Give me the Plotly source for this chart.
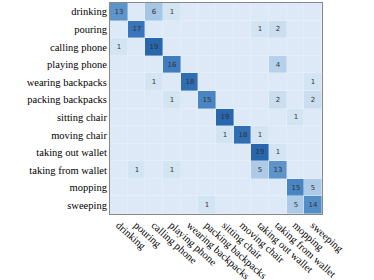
import plotly.graph_objects as go

labels = ["drinking", "pouring", "calling phone", "playing phone", "wearing backpacks",
          "packing backpacks", "sitting chair", "moving chair", "taking out wallet",
          "taking from wallet", "mopping", "sweeping"]

row_drinking = [13, 0, 6, 1, 0, 0, 0, 0, 0, 0, 0, 0]
row_pouring = [0, 17, 0, 0, 0, 0, 0, 0, 1, 2, 0, 0]
row_calling = [1, 0, 19, 0, 0, 0, 0, 0, 0, 0, 0, 0]
row_playing = [0, 0, 0, 16, 0, 0, 0, 0, 0, 4, 0, 0]
row_wearing = [0, 0, 1, 0, 18, 0, 0, 0, 0, 0, 0, 1]
row_packing = [0, 0, 0, 1, 0, 15, 0, 0, 0, 2, 0, 2]
row_sitting = [0, 0, 0, 0, 0, 0, 19, 0, 0, 0, 1, 0]
row_moving = [0, 0, 0, 0, 0, 0, 1, 18, 1, 0, 0, 0]
row_takeout = [0, 0, 0, 0, 0, 0, 0, 0, 19, 1, 0, 0]
row_takefrom = [0, 1, 0, 1, 0, 0, 0, 0, 5, 13, 0, 0]
row_mopping = [0, 0, 0, 0, 0, 0, 0, 0, 0, 0, 15, 5]
row_sweeping = [0, 0, 0, 0, 0, 1, 0, 0, 0, 0, 5, 14]

z = [row_drinking, row_pouring, row_calling, row_playing, row_wearing, row_packing,
     row_sitting, row_moving, row_takeout, row_takefrom, row_mopping, row_sweeping]

text = [[str(v) if v > 0 else "" for v in row] for row in z]

colorscale = [
    [0.0, "#dde9f6"],
    [0.06, "#d2e3f3"],
    [0.25, "#afcce7"],
    [0.35, "#a0c3e3"],
    [0.7, "#5a93ca"],
    [0.85, "#3f7cbf"],
    [1.0, "#2866ae"],
]

serif = "Liberation Serif, Times New Roman, serif"

fig = go.Figure(go.Heatmap(
    z=z, x=labels, y=labels, text=text, texttemplate="%{text}",
    textfont=dict(family="DejaVu Sans", size=7, color="#333333"),
    colorscale=colorscale, zmin=0, zmax=19, showscale=False,
    xgap=0.4, ygap=0.4, hoverinfo="skip",
))

fig.update_layout(
    width=374, height=280,
    margin=dict(l=110, r=52, t=3, b=66, autoexpand=False),
    paper_bgcolor="white", plot_bgcolor="#eef4fb",
    font=dict(family=serif, size=10.5, color="black"),
)
fig.update_xaxes(tickangle=42, showgrid=False, zeroline=False, ticks="", automargin=False,
                 showline=True, linecolor="#888888", linewidth=1, mirror=True,
                 tickfont=dict(family=serif, size=10.5, color="black"))
fig.update_yaxes(autorange="reversed", showgrid=False, zeroline=False, ticks="", automargin=False,
                 showline=True, linecolor="#888888", linewidth=1, mirror=True,
                 tickfont=dict(family=serif, size=10.5, color="black"))

fig.write_html("out.html", config={"displayModeBar": False},
               post_script="document.body.style.margin='0px';")
